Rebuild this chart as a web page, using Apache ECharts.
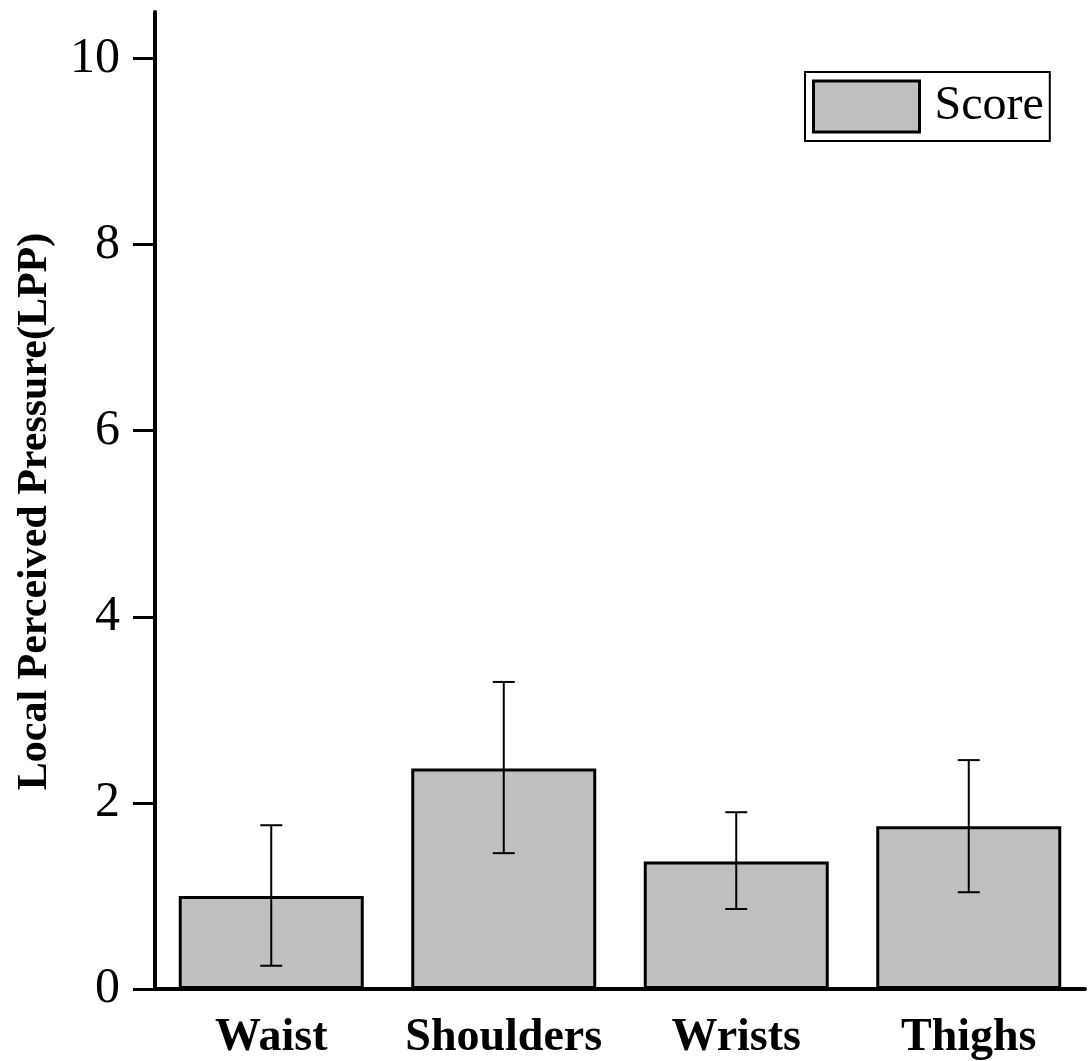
<!DOCTYPE html>
<html>
<head>
<meta charset="utf-8">
<title>Local Perceived Pressure</title>
<script src="https://cdn.jsdelivr.net/npm/echarts@6/dist/echarts.min.js"></script>
<style>
  html, body { margin: 0; padding: 0; background: #fff; }
  #main { width: 1091px; height: 1061px; }
</style>
</head>
<body>
<div id="main"></div>
<script type="text/javascript">
// data
var categories = ['Waist', 'Shoulders', 'Wrists', 'Thighs'];
var scores = [1.0, 2.37, 1.37, 1.75];
var errLow = [0.25, 1.46, 0.86, 1.04];
var errHigh = [1.76, 3.30, 1.90, 2.46];
var yTicks = [0, 2, 4, 6, 8, 10];

var serif = 'Liberation Serif';

// 误差线数据 [类别序号, 下限, 上限]
var errData = categories.map(function (c, i) {
    return [i, errLow[i], errHigh[i]];
});

var myChart = echarts.init(document.getElementById('main'));

var option = {
    backgroundColor: '#fff',
    animation: false,
    grid: {
        left: 155,
        top: 12,
        width: 930,
        bottom: 71
    },
    legend: {
        data: ['Score'],
        left: 805,
        top: 72,
        orient: 'vertical',
        icon: 'rect',
        itemWidth: 106,
        itemHeight: 51,
        padding: [7, 6, 7, 7],
        borderColor: '#000',
        borderWidth: 2,
        itemStyle: { borderColor: '#000', borderWidth: 3 },
        textStyle: {
            fontFamily: serif, fontSize: 48, color: '#000',
            lineHeight: 51, padding: [4, 0, 0, 10]
        }
    },
    xAxis: {
        type: 'category',
        data: categories,
        boundaryGap: true,
        axisLine: { lineStyle: { color: '#000', width: 4 } },
        axisTick: { show: false },
        axisLabel: {
            interval: 0,
            margin: 26,
            fontFamily: serif,
            fontWeight: 'bold',
            fontSize: 46,
            color: '#000'
        }
    },
    yAxis: {
        type: 'value',
        min: 0,
        max: 10.5,
        interval: 2,
        name: 'Local Perceived Pressure(LPP)',
        nameLocation: 'middle',
        nameGap: 99,
        nameTextStyle: {
            fontFamily: serif,
            fontWeight: 'bold',
            fontSize: 42,
            color: '#000',
            padding: [0, 22, 0, 0]
        },
        splitLine: { show: false },
        axisLine: { show: true, lineStyle: { color: '#000', width: 4 } },
        axisTick: {
            show: true,
            length: 22,
            customValues: yTicks,
            lineStyle: { color: '#000', width: 3 }
        },
        axisLabel: {
            margin: 35,
            customValues: yTicks,
            fontFamily: serif,
            fontSize: 50,
            color: '#000'
        }
    },
    series: [
        {
            name: 'Score',
            type: 'bar',
            data: scores,
            barWidth: 185,
            itemStyle: { color: '#c0c0c0', borderColor: '#000', borderWidth: 3 },
            z: 2
        },
        {
            name: 'err',
            type: 'custom',
            data: errData,
            encode: { x: 0, y: [1, 2] },
            z: 5,
            renderItem: function (params, api) {
                var x = api.value(0);
                var lo = api.coord([x, api.value(1)]);
                var hi = api.coord([x, api.value(2)]);
                var half = 11;
                var st = { stroke: '#000', lineWidth: 2 };
                return {
                    type: 'group',
                    children: [
                        { type: 'line', shape: { x1: hi[0], y1: hi[1], x2: lo[0], y2: lo[1] }, style: st },
                        { type: 'line', shape: { x1: hi[0] - half, y1: hi[1], x2: hi[0] + half, y2: hi[1] }, style: st },
                        { type: 'line', shape: { x1: lo[0] - half, y1: lo[1], x2: lo[0] + half, y2: lo[1] }, style: st }
                    ]
                };
            }
        }
    ]
};

myChart.setOption(option);
</script>
</body>
</html>
